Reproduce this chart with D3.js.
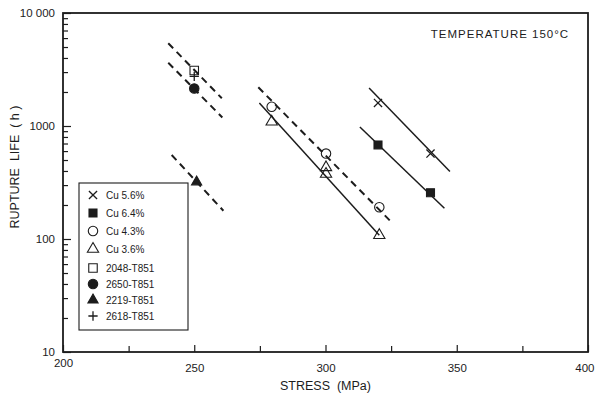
<!DOCTYPE html>
<html lang="en">
<head>
<meta charset="UTF-8">
<title>Rupture life vs stress</title>
<script src="https://cdn.jsdelivr.net/npm/d3@7"></script>
<style>
    body { margin: 0; background: #fff; }
    text { font-family: "Liberation Sans", Arial, sans-serif; fill: #1c1c1c; }
</style>
</head>
<body>
<script>
    // values: [stress MPa, rupture life h]
    var cu56 = [[320, 1600], [340, 570]];
    var cu56Fit = [[316.6, 2170], [347.4, 395]];
    var cu64 = [[320, 680], [340, 257]];
    var cu64Fit = [[313.1, 980], [345.3, 187]];
    var cu43 = [[279.5, 1480], [300.2, 570], [320.5, 191]];
    var cu43Fit = [[274.4, 2200], [325.8, 136]];
    var cu36 = [[279.5, 1090], [300.2, 430], [300.2, 376], [320.5, 108]];
    var cu36Fit = [[274.8, 1600], [320.5, 108]];
    var a2048 = [[250, 3100]];
    var a2048Fit = [[240.1, 5400], [260.5, 1760]];
    var a2650 = [[250, 2150]];
    var a2650Fit = [[240.1, 3630], [260.7, 1190]];
    var a2219 = [[250.9, 320]];
    var a2219Fit = [[241.4, 554], [261.1, 178]];
    var a2618 = [[250, 2750]];

    var legendLabels = ["Cu 5.6%", "Cu 6.4%", "Cu 4.3%", "Cu 3.6%",
                        "2048-T851", "2650-T851", "2219-T851", "2618-T851"];
    var xTicks = [200, 250, 300, 350, 400];
    var xMinorTicks = [225, 275, 325, 375];
    var yTicks = [10, 100, 1000, 10000];
    var yTickLabels = ["10", "100", "1000", "10 000"];

    // 每个系列: 点, 拟合线, 符号
    var series = [
        {pts: cu56, fit: cu56Fit, dash: false, sym: d3.symbolTimes, size: 45, fill: false},
        {pts: cu64, fit: cu64Fit, dash: false, sym: d3.symbolSquare, size: 64, fill: true},
        {pts: cu43, fit: cu43Fit, dash: true, sym: d3.symbolCircle, size: 70, fill: false},
        {pts: cu36, fit: cu36Fit, dash: false, sym: d3.symbolTriangle, size: 55, fill: false},
        {pts: a2048, fit: a2048Fit, dash: true, sym: d3.symbolSquare, size: 72, fill: false},
        {pts: a2650, fit: a2650Fit, dash: true, sym: d3.symbolCircle, size: 70, fill: true},
        {pts: a2219, fit: a2219Fit, dash: true, sym: d3.symbolTriangle, size: 45, fill: true},
        {pts: a2618, fit: null, dash: false, sym: d3.symbolPlus, size: 30, fill: false}
    ];

    var width = 595, height = 397;
    var svg = d3.select("body").append("svg")
                .attr("width", width)
                .attr("height", height);

    var x = d3.scaleLinear().domain([200, 400]).range([63, 588]);
    var y = d3.scaleLog().domain([10, 10000]).range([352, 13]);

    // axes (ticks point inward)
    var gx = svg.append("g").attr("transform", "translate(0," + y(10) + ")")
        .call(d3.axisBottom(x).tickValues(xTicks).tickSize(-7).tickPadding(12)
              .tickFormat(d3.format("d")));
    svg.append("g").attr("transform", "translate(0," + y(10) + ")")
        .call(d3.axisBottom(x).tickValues(xMinorTicks).tickSize(-6).tickFormat(""));
    var gy = svg.append("g").attr("transform", "translate(" + x(200) + ",0)")
        .call(d3.axisLeft(y).tickValues(yTicks).tickSize(-8).tickPadding(8)
              .tickFormat(function (d, i) { return yTickLabels[i]; }));
    var yMinor = y.ticks().filter(function (d) { return yTicks.indexOf(d) < 0; });
    svg.append("g").attr("transform", "translate(" + x(200) + ",0)")
        .call(d3.axisLeft(y).tickValues(yMinor).tickSize(-5).tickFormat(""));

    svg.selectAll(".domain").remove();
    svg.selectAll(".tick line").attr("stroke", "#1c1c1c").attr("stroke-width", 1.2);
    svg.selectAll(".tick text").attr("font-size", 11.5).attr("font-family", null).attr("fill", null);
    gx.selectAll(".tick text").filter(function (d) { return d === 200; }).attr("dy", "0.25em");
    // 400 sits at the right edge, pull it in a little
    gx.selectAll(".tick text").filter(function (d) { return d === 400; })
        .attr("text-anchor", "end").attr("dx", 6);

    // frame
    svg.append("rect")
        .attr("x", x(200)).attr("y", y(10000))
        .attr("width", x(400) - x(200)).attr("height", y(10) - y(10000))
        .attr("fill", "none").attr("stroke", "#1c1c1c").attr("stroke-width", 1.8);

    // fit lines
    var line = d3.line()
        .x(function (d) { return x(d[0]); })
        .y(function (d) { return y(d[1]); });
    svg.selectAll(".fit")
        .data(series.filter(function (s) { return s.fit; }))
        .enter().append("path")
        .attr("d", function (s) { return line(s.fit); })
        .attr("fill", "none")
        .attr("stroke", "#1c1c1c")
        .attr("stroke-width", function (s) { return s.dash ? 2 : 1.5; })
        .attr("stroke-dasharray", function (s) { return s.dash ? "7,5" : null; });

    function drawSym(g, s) {
        var stroked = s.sym === d3.symbolTimes || s.sym === d3.symbolPlus;
        g.attr("d", d3.symbol().type(s.sym).size(s.size))
         .attr("fill", s.fill ? "#1c1c1c" : "none")
         .attr("stroke", "#1c1c1c")
         .attr("stroke-width", stroked ? 1.3 : 1.1);
    }

    // points
    series.forEach(function (s) {
        svg.selectAll(null).data(s.pts).enter().append("path")
            .attr("transform", function (d) { return "translate(" + x(d[0]) + "," + y(d[1]) + ")"; })
            .call(drawSym, s);
    });

    // legend
    var lg = svg.append("g");
    lg.append("rect").attr("x", 79).attr("y", 183).attr("width", 109).attr("height", 147)
        .attr("fill", "#fff").attr("stroke", "#1c1c1c").attr("stroke-width", 1.1);
    legendLabels.forEach(function (lab, i) {
        var ly = i < 4 ? 195 + i * 18 : 268 + (i - 4) * 16;
        lg.append("path").attr("transform", "translate(93," + ly + ")").call(drawSym, series[i]);
        lg.append("text").attr("x", 106).attr("y", ly).attr("dy", "0.35em")
            .attr("font-size", 10).text(lab);
    });

    // labels
    svg.append("text").attr("x", 500).attr("y", 38).attr("text-anchor", "middle")
        .attr("font-size", 11.5).attr("letter-spacing", 1).text("TEMPERATURE 150°C");
    svg.append("text").attr("x", (x(200) + x(400)) / 2).attr("y", 390).attr("text-anchor", "middle")
        .attr("font-size", 12.5).attr("xml:space", "preserve").text("STRESS  (MPa)");
    svg.append("text").attr("transform", "translate(19,167) rotate(-90)").attr("text-anchor", "middle")
        .attr("font-size", 12.5).attr("xml:space", "preserve").text("RUPTURE  LIFE  ( h )");
</script>
</body>
</html>
